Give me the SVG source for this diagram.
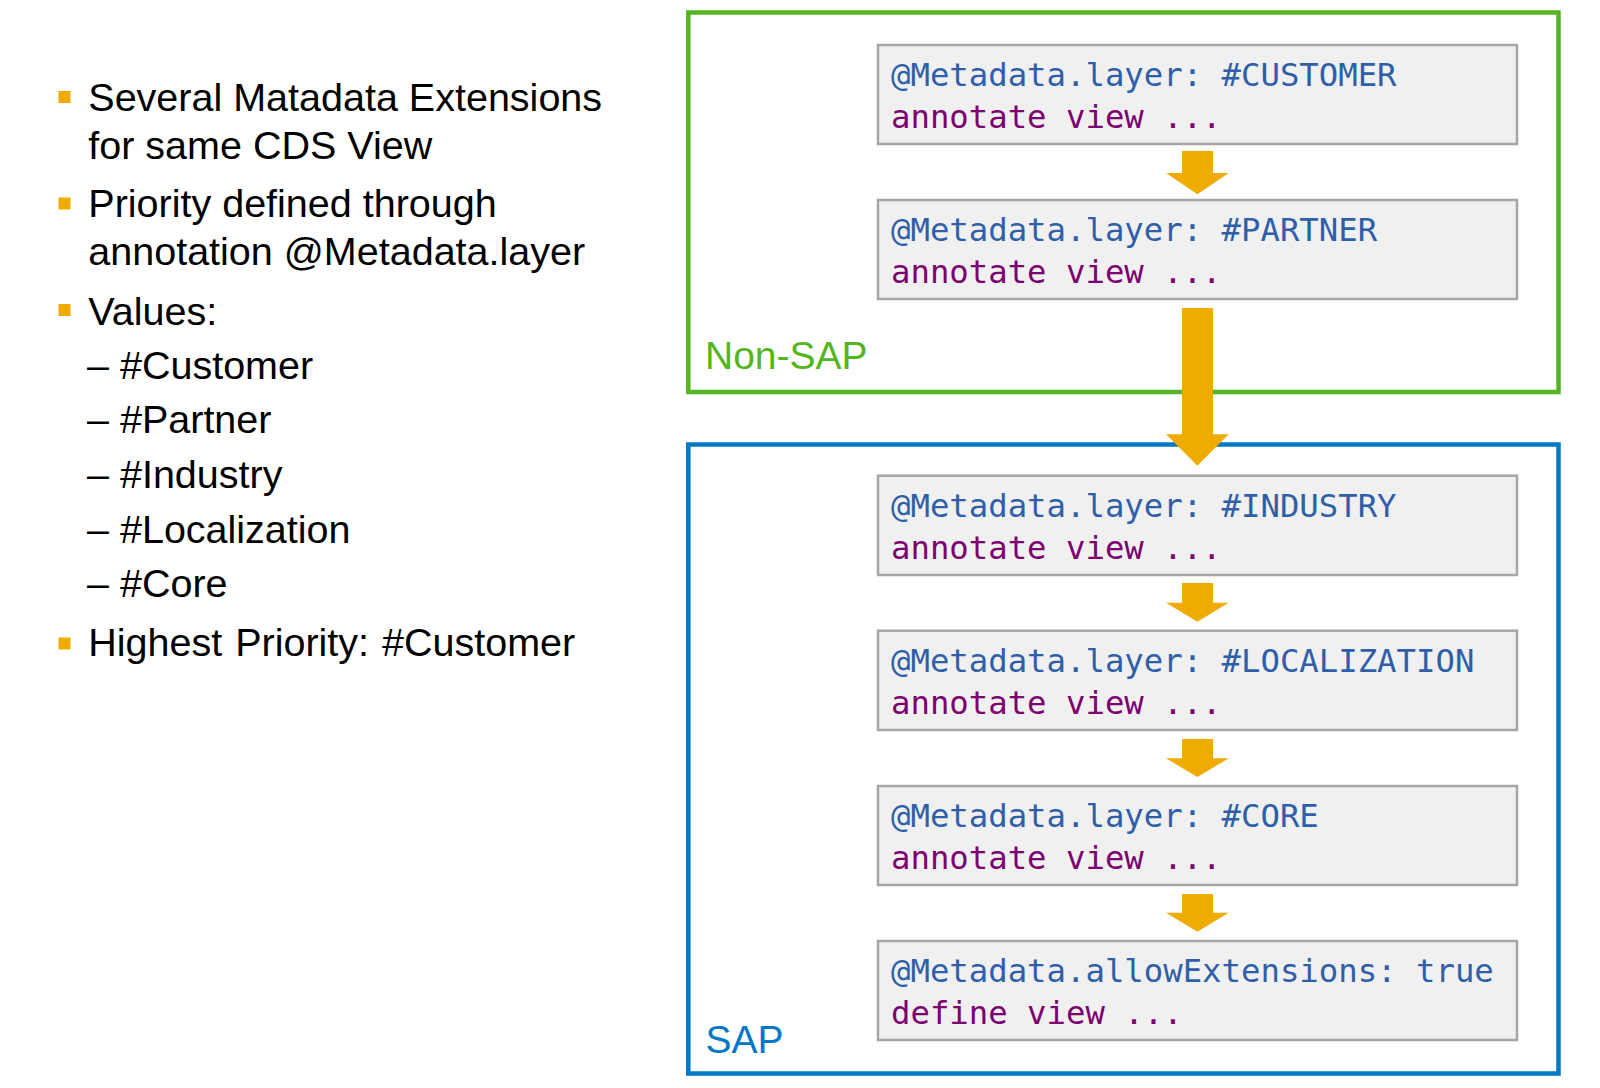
<svg xmlns="http://www.w3.org/2000/svg" width="1600" height="1088" viewBox="0 0 1600 1088">
<style>
.txt{font-family:"Liberation Sans",Arial,sans-serif;font-size:39.5px;fill:#000}
.bul{fill:#f0ab00}
.frame{fill:none;stroke-width:4.5}
.box{fill:#f0f0f0;stroke:#a6a6a6;stroke-width:2.5}
.code{font-family:"DejaVu Sans Mono","Liberation Mono",monospace;font-size:32.3px}
.ann{fill:#2f5fa8}
.kw{fill:#7d0070}
.arrow{fill:#f0ab00}
.lbl{font-family:"Liberation Sans",Arial,sans-serif}
</style>
<rect width="1600" height="1088" fill="#fff"/>

<g id="bullets">
  <rect class="bul" x="58.5" y="91" width="12" height="12"/>
  <text class="txt" x="88.3" y="111">Several Matadata Extensions</text>
  <text class="txt" x="88.3" y="159">for same CDS View</text>
  <rect class="bul" x="58.5" y="197.5" width="12" height="12"/>
  <text class="txt" x="88.3" y="217.3">Priority defined through</text>
  <text class="txt" x="88.3" y="265">annotation @Metadata.layer</text>
  <rect class="bul" x="58.5" y="304" width="12" height="12"/>
  <text class="txt" x="88.3" y="325">Values:</text>
  <text class="txt" x="87" y="379.3">– #Customer</text>
  <text class="txt" x="87" y="433.3">– #Partner</text>
  <text class="txt" x="87" y="488.3">– #Industry</text>
  <text class="txt" x="87" y="542.7">– #Localization</text>
  <text class="txt" x="87" y="597.3">– #Core</text>
  <rect class="bul" x="58.5" y="637.5" width="12" height="12"/>
  <text class="txt" x="88.3" y="656" word-spacing="2">Highest Priority: #Customer</text>
</g>

<g id="non-sap">
  <rect class="frame" x="688.3" y="12.5" width="870.2" height="379.5" stroke="#55b520"/>
  <text class="lbl" x="705" y="369.3" font-size="39" fill="#55b520">Non-SAP</text>
</g>

<g id="sap">
  <rect class="frame" x="688.3" y="444.5" width="870.2" height="629" stroke="#0078c8"/>
  <text class="lbl" x="705.5" y="1052.7" font-size="39" fill="#0078c8">SAP</text>
</g>

<g id="connectors">
  <polygon class="arrow" points="1182,151 1213,151 1213,173 1228.7,173 1197.4,194.3 1166,173 1182,173"/>
  <polygon class="arrow" points="1182,308 1213,308 1213,434.3 1228.7,434.3 1197.4,465.7 1166,434.3 1182,434.3"/>
  <polygon class="arrow" points="1182,583 1213,583 1213,602.7 1228.7,602.7 1197.4,621.7 1166,602.7 1182,602.7"/>
  <polygon class="arrow" points="1182,739 1213,739 1213,758.3 1228.7,758.3 1197.4,777 1166,758.3 1182,758.3"/>
  <polygon class="arrow" points="1182,894 1213,894 1213,912.7 1228.7,912.7 1197.4,931.7 1166,912.7 1182,912.7"/>
</g>

<g id="layer-customer">
  <rect class="box" x="878" y="45" width="639" height="99"/>
  <text class="code ann" x="891" y="86">@Metadata.layer: #CUSTOMER</text>
  <text class="code kw" x="891" y="128">annotate view ...</text>
</g>

<g id="layer-partner">
  <rect class="box" x="878" y="200" width="639" height="99"/>
  <text class="code ann" x="891" y="241">@Metadata.layer: #PARTNER</text>
  <text class="code kw" x="891" y="283">annotate view ...</text>
</g>

<g id="layer-industry">
  <rect class="box" x="878" y="475.7" width="639" height="99.3"/>
  <text class="code ann" x="891" y="516.7">@Metadata.layer: #INDUSTRY</text>
  <text class="code kw" x="891" y="558.7">annotate view ...</text>
</g>

<g id="layer-localization">
  <rect class="box" x="878" y="630.7" width="639" height="99.3"/>
  <text class="code ann" x="891" y="671.7">@Metadata.layer: #LOCALIZATION</text>
  <text class="code kw" x="891" y="713.7">annotate view ...</text>
</g>

<g id="layer-core">
  <rect class="box" x="878" y="786" width="639" height="99"/>
  <text class="code ann" x="891" y="827">@Metadata.layer: #CORE</text>
  <text class="code kw" x="891" y="869">annotate view ...</text>
</g>

<g id="define-view">
  <rect class="box" x="878" y="941" width="639" height="99"/>
  <text class="code ann" x="891" y="982">@Metadata.allowExtensions: true</text>
  <text class="code kw" x="891" y="1024">define view ...</text>
</g>
</svg>
